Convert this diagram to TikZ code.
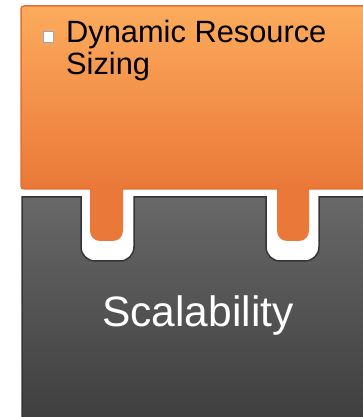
\documentclass[tikz,border=0pt]{standalone}
\usepackage{fontspec}
\setmainfont{Liberation Sans}
\definecolor{orgtop}{RGB}{252,171,92}
\definecolor{orgbot}{RGB}{234,120,56}
\definecolor{orgline}{RGB}{229,112,50}
\definecolor{graytop}{RGB}{104,104,104}
\definecolor{graybot}{RGB}{62,62,62}
\definecolor{grayline}{RGB}{52,52,52}
\definecolor{bulline}{RGB}{150,165,195}
\tikzset{
  lbl/.style={inner sep=0pt, font=\fontsize{30.8}{32}\selectfont, text=black},
  title/.style={inner sep=0pt, font=\fontsize{42.5}{46}\selectfont, text=white},
}
\begin{document}
\begin{tikzpicture}[x=1pt,y=1pt]
\useasboundingbox (0,0) rectangle (363,417);
\begin{scope}
\clip (0,0) rectangle (363,417);
% gray base with notches
\shade[top color=graytop, bottom color=graybot, draw=grayline, line width=1.5pt]
  (22,-5) -- (22,220) -- (81,220) -- (81,170) arc (180:270:14) -- (120,156) arc (270:360:14) -- (134,220)
  -- (266,220) -- (266,170) arc (180:270:14) -- (305,156) arc (270:360:14) -- (319,220)
  -- (370,220) -- (370,-5) -- cycle;
% orange box with tabs
\fill[orgbot]
  (21,230) -- (90,230) -- (90,186) arc (180:270:10) -- (113,176) arc (270:360:10) -- (123,230)
  -- (277,230) -- (277,186) arc (180:270:10) -- (299,176) arc (270:360:10) -- (309,230)
  -- (370,230) -- (370,228) -- (21,228) -- cycle;
\shade[top color=orgtop, bottom color=orgbot, draw=orgline, line width=1.5pt, rounded corners=3pt]
  (21,228) rectangle (375,411);
\fill[orgbot] (91,226) rectangle (122,232);
\fill[orgbot] (278,226) rectangle (308,232);
\end{scope}
% bullet
\node[draw=bulline, fill=white, line width=1pt, minimum width=10pt, minimum height=11pt, inner sep=0pt] (bul) at (48.5,380) {};
\node[lbl, anchor=base west] (l1) at (66,374) {Dynamic Resource};
\node[lbl, anchor=base west] (l2) at (66,342) {Sizing};
\node[title, anchor=base] (t) at (198,90) {Scalability};
\end{tikzpicture}
\end{document}
